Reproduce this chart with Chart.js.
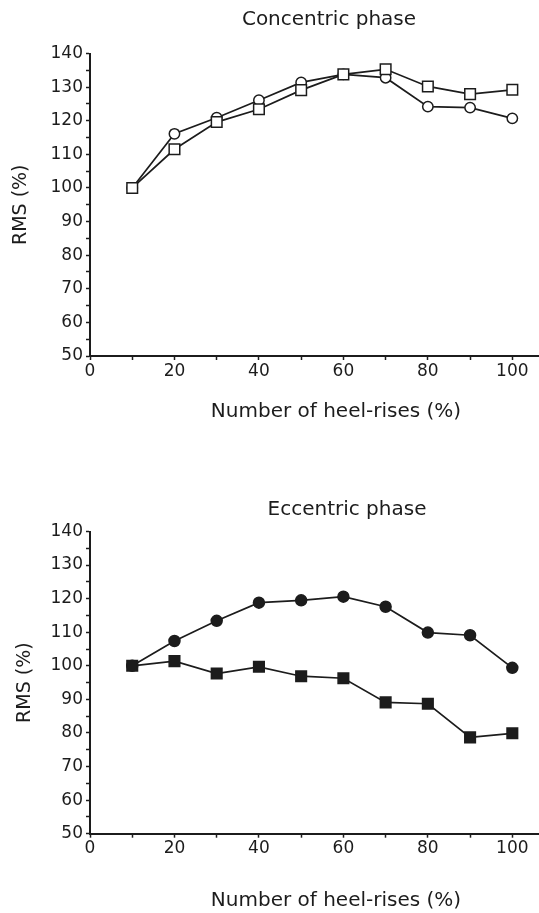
<!DOCTYPE html>
<html>
<head>
<meta charset="utf-8">
<script src="https://cdn.jsdelivr.net/npm/chart.js@4"></script>
<style>
  html, body { margin: 0; padding: 0; background: #fff; }
  body { width: 539px; height: 913px; overflow: hidden; position: relative; }
  .panel { position: absolute; left: 0; width: 591px; }
  #topPanel { top: 0; height: 456px; }
  #bottomPanel { top: 456px; height: 457px; }
</style>
</head>
<body>
<div class="panel" id="topPanel"><canvas id="concentricChart" width="591" height="456"></canvas></div>
<div class="panel" id="bottomPanel"><canvas id="eccentricChart" width="591" height="457"></canvas></div>
<script>
// ===== DATA =====
const heelRises = [10, 20, 30, 40, 50, 60, 70, 80, 90, 100];
const concentricCircles = [100, 116.1, 120.9, 126.1, 131.4, 133.8, 132.8, 124.2, 123.9, 120.7];
const concentricSquares = [100, 111.5, 119.6, 123.4, 129.1, 133.8, 135.3, 130.2, 127.9, 129.2];
const eccentricCircles = [100, 107.4, 113.4, 118.8, 119.5, 120.6, 117.6, 109.9, 109.1, 99.4];
const eccentricSquares = [100, 101.4, 97.7, 99.7, 96.9, 96.3, 89.1, 88.7, 78.7, 79.9];
const xTicks = [0, 10, 20, 30, 40, 50, 60, 70, 80, 90, 100];

const ink = '#1c1c1c';
const family = '"DejaVu Sans", sans-serif';

// ===== PANEL TITLE (drawn above the plot, off-centre like the scan) =====
const panelTitle = {
    id: 'panelTitle',
    afterDraw(chart, args, opts) {
        const { ctx } = chart;
        ctx.save();
        ctx.font = '20px ' + family;
        ctx.fillStyle = ink;
        ctx.textAlign = 'center';
        ctx.textBaseline = 'middle';
        ctx.fillText(opts.text, opts.x, opts.y);
        ctx.restore();
    }
};

function pairs(values) {
    return heelRises.map((x, i) => ({ x: x, y: values[i] }));
}

function series(values, style, radius, fill) {
    return {
        data: pairs(values),
        borderColor: ink,
        borderWidth: 1.7,
        pointStyle: style,
        pointRadius: radius,
        pointHoverRadius: radius,
        pointBackgroundColor: fill,
        pointBorderColor: ink,
        pointBorderWidth: 1.5,
        tension: 0,
        fill: false
    };
}

function makeChart(id, datasets, p) {
    new Chart(document.getElementById(id), {
        type: 'line',
        data: { datasets: datasets },
        options: {
            responsive: false,
            animation: false,
            layout: { padding: { top: p.top, bottom: p.bottom, left: 0, right: 0 } },
            plugins: {
                legend: { display: false },
                tooltip: { enabled: false },
                panelTitle: { text: p.title, x: p.titleX, y: p.titleY }
            },
            scales: {
                x: {
                    type: 'linear',
                    min: 0,
                    max: 116.5,
                    afterBuildTicks: s => { s.ticks = xTicks.map(v => ({ value: v })); },
                    afterFit: s => { s.height = p.xAxisH; },
                    border: { color: ink, width: 2 },
                    grid: { drawOnChartArea: false, tickLength: 4, color: ink, tickWidth: 1.5 },
                    ticks: {
                        color: ink, font: { family: family, size: 17 }, padding: 1,
                        autoSkip: false, maxRotation: 0,
                        callback: v => (v % 20 === 0 ? v : '')
                    },
                    title: {
                        display: true, text: 'Number of heel-rises (%)', color: ink,
                        font: { family: family, size: 20 }, padding: { top: 0, bottom: p.xTitlePad }
                    }
                },
                y: {
                    min: 50,
                    max: 140,
                    afterFit: s => { s.width = 90; },
                    border: { color: ink, width: 2 },
                    grid: { drawOnChartArea: false, tickLength: 4, color: ink, tickWidth: 1.5 },
                    ticks: {
                        stepSize: 5, color: ink, font: { family: family, size: 17 }, padding: 3,
                        autoSkip: false,
                        callback: v => (v % 10 === 0 ? v : '')
                    },
                    title: {
                        display: true, text: 'RMS (%)', color: ink,
                        font: { family: family, size: 19 }, padding: { top: p.yTitlePad, bottom: 0 }
                    }
                }
            }
        },
        plugins: [panelTitle]
    });
}

document.addEventListener('DOMContentLoaded', () => {
    // ===== CONCENTRIC PHASE =====
    makeChart('concentricChart', [
        series(concentricSquares, 'rect', 7.5, '#fff'),
        series(concentricCircles, 'circle', 5.2, '#fff')
    ], { top: 53.5, bottom: 30, xAxisH: 70, xTitlePad: 2, yTitlePad: 10,
         title: 'Concentric phase', titleX: 329, titleY: 20 });

    // ===== ECCENTRIC PHASE =====
    makeChart('eccentricChart', [
        series(eccentricSquares, 'rect', 7.5, ink),
        series(eccentricCircles, 'circle', 5.5, ink)
    ], { top: 75.5, bottom: 0, xAxisH: 79.3, xTitlePad: 0, yTitlePad: 14,
         title: 'Eccentric phase', titleX: 347, titleY: 54 });
});
</script>
</body>
</html>
